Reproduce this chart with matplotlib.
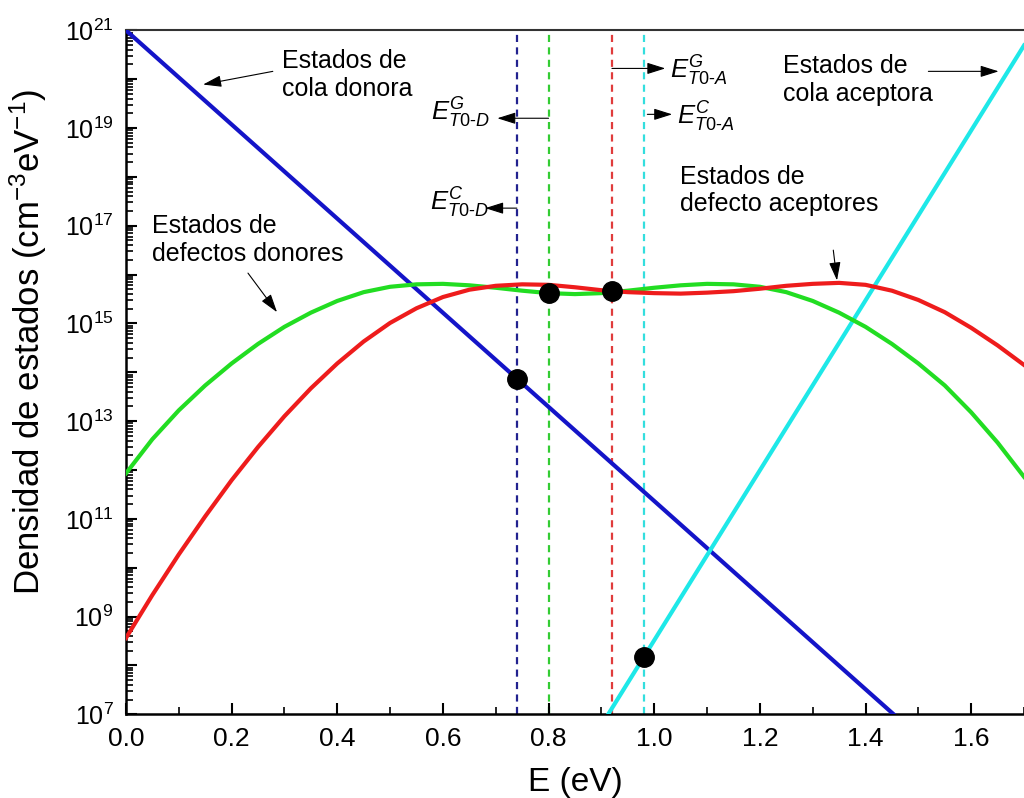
import matplotlib
matplotlib.use("Agg")
import matplotlib.pyplot as plt
from matplotlib.ticker import FixedLocator, FuncFormatter, LogLocator, MultipleLocator
import numpy as np

plt.rcParams['font.family'] = ['Liberation Sans', 'DejaVu Sans']
plt.rcParams['mathtext.fontset'] = 'custom'
plt.rcParams['mathtext.rm'] = 'Liberation Sans'
plt.rcParams['mathtext.it'] = 'Liberation Sans:italic'
plt.rcParams['mathtext.bf'] = 'Liberation Sans:bold'

# energy grid for the defect distributions (eV)
E_def = [0.00, 0.05, 0.10, 0.15, 0.20, 0.25, 0.30, 0.35, 0.40, 0.45,
         0.50, 0.55, 0.60, 0.65, 0.70, 0.75, 0.80, 0.85, 0.90, 0.95,
         1.00, 1.05, 1.10, 1.15, 1.20, 1.25, 1.30, 1.35, 1.40, 1.45,
         1.50, 1.55, 1.60, 1.65, 1.70]

# log10 of density of states (cm^-3 eV^-1)
donor_def_log = [11.93, 12.63, 13.22, 13.73, 14.18, 14.58, 14.93, 15.22, 15.46, 15.64,
                 15.75, 15.80, 15.81, 15.78, 15.73, 15.67, 15.62, 15.60, 15.62, 15.67,
                 15.73, 15.78, 15.81, 15.80, 15.75, 15.64, 15.46, 15.22, 14.93, 14.58,
                 14.18, 13.73, 13.18, 12.56, 11.86]
acc_def_log = [8.56, 9.44, 10.27, 11.05, 11.79, 12.47, 13.10, 13.67, 14.18, 14.63,
               15.01, 15.31, 15.54, 15.69, 15.77, 15.80, 15.79, 15.74, 15.68, 15.64,
               15.62, 15.61, 15.63, 15.66, 15.71, 15.77, 15.81, 15.83, 15.79, 15.67,
               15.48, 15.23, 14.91, 14.55, 14.15]

# exponential band tails (straight lines on the log axis)
E_donor_tail = [0.0, 1.453]
donor_tail_log = [21.0, 7.0]
E_acc_tail = [0.913, 1.70]
acc_tail_log = [7.0, 20.69]

# characteristic energies
E_T0 = [0.74, 0.80, 0.92, 0.98]
E_T0_colors = ['#22228f', '#33cc33', '#e03c3c', '#33dede']
dot_E = [0.74, 0.80, 0.92, 0.98]
dot_log = [13.87, 15.62, 15.66, 8.17]

fig = plt.figure(figsize=(10.24, 7.98), dpi=100)
ax = fig.add_axes([0.123, 0.105, 0.877, 0.857])

for e, c in zip(E_T0, E_T0_colors):
    ax.axvline(e, color=c, lw=1.6, dashes=(3.2, 2.4), zorder=1)

ax.plot(E_donor_tail, 10.0 ** np.array(donor_tail_log), color='#1414c8', lw=3, zorder=3)
ax.plot(E_acc_tail, 10.0 ** np.array(acc_tail_log), color='#1ee8e8', lw=3, zorder=3)
ax.plot(E_def, 10.0 ** np.array(donor_def_log), color='#22dd22', lw=3, zorder=3,
        solid_joinstyle='round')
ax.plot(E_def, 10.0 ** np.array(acc_def_log), color='#ee1c1c', lw=3, zorder=3,
        solid_joinstyle='round')
ax.plot(dot_E, 10.0 ** np.array(dot_log), 'o', color='black', ms=14, zorder=5)

ax.set_yscale('log')
ax.set_xlim(0, 1.7)
ax.set_ylim(1e7, 1e21)

ax.xaxis.set_major_locator(MultipleLocator(0.2))
ax.xaxis.set_minor_locator(MultipleLocator(0.1))
ax.xaxis.set_major_formatter(FuncFormatter(lambda v, p: f'{v:.1f}'))
ax.yaxis.set_major_locator(FixedLocator([10.0 ** k for k in range(7, 22)]))
ax.yaxis.set_minor_locator(LogLocator(base=10, subs=np.arange(2, 10), numticks=30))
ax.yaxis.set_major_formatter(FuncFormatter(
    lambda v, p: r'$10^{%d}$' % round(np.log10(v)) if round(np.log10(v)) % 2 == 1 else ''))
ax.yaxis.set_minor_formatter(FuncFormatter(lambda v, p: ''))

ax.tick_params(which='both', direction='in', top=False, right=False)
ax.tick_params(axis='x', labelsize=19)
ax.tick_params(axis='y', labelsize=18)
ax.tick_params(which='major', length=8, width=1.5, pad=9)
ax.tick_params(which='minor', length=5, width=1.2)
ax.spines['right'].set_visible(False)
ax.spines['top'].set_color('#333333')
ax.spines['top'].set_linewidth(1.5)
for s in ('left', 'bottom'):
    ax.spines[s].set_linewidth(1.8)

ax.set_xlabel('E (eV)', fontsize=24, labelpad=12)
ax.set_ylabel(r'Densidad de estados (cm$^{-3}$eV$^{-1}$)', fontsize=25)
ax.yaxis.set_label_coords(-0.086, 0.545)

arrow = dict(arrowstyle='-|>,head_length=0.7,head_width=0.22', color='black',
             lw=0.8, mutation_scale=16, shrinkA=0, shrinkB=0)

# curve labels
ax.text(0.295, 10 ** 20.08, 'Estados de\ncola donora', fontsize=18, va='center', ha='left')
ax.annotate('', xy=(0.146, 10 ** 19.89), xytext=(0.278, 10 ** 20.16), arrowprops=arrow)

ax.text(0.049, 10 ** 16.70, 'Estados de\ndefectos donores', fontsize=18, va='center', ha='left')
ax.annotate('', xy=(0.286, 10 ** 15.23), xytext=(0.231, 10 ** 16.03), arrowprops=arrow)

ax.text(1.244, 10 ** 19.98, 'Estados de\ncola aceptora', fontsize=18, va='center', ha='left')
ax.annotate('', xy=(1.652, 10 ** 20.16), xytext=(1.519, 10 ** 20.16), arrowprops=arrow)

ax.text(1.049, 10 ** 17.72, 'Estados de\ndefecto aceptores', fontsize=18, va='center', ha='left')
ax.annotate('', xy=(1.346, 10 ** 15.88), xytext=(1.339, 10 ** 16.50), arrowprops=arrow)

# characteristic energy labels
ax.annotate('', xy=(0.703, 10 ** 19.20), xytext=(0.80, 10 ** 19.20), arrowprops=arrow)
ax.text(0.689, 10 ** 19.30, r'$E^{G}_{\mathit{T0}\text{-}D}$', fontsize=18.5, va='center', ha='right')

ax.annotate('', xy=(0.68, 10 ** 17.36), xytext=(0.74, 10 ** 17.36), arrowprops=arrow)
ax.text(0.686, 10 ** 17.46, r'$E^{C}_{\mathit{T0}\text{-}D}$', fontsize=18.5, va='center', ha='right')

ax.annotate('', xy=(1.021, 10 ** 20.22), xytext=(0.92, 10 ** 20.22), arrowprops=arrow)
ax.text(1.030, 10 ** 20.16, r'$E^{G}_{\mathit{T0}\text{-}A}$', fontsize=18.5, va='center', ha='left')

ax.annotate('', xy=(1.034, 10 ** 19.28), xytext=(0.987, 10 ** 19.28), arrowprops=arrow)
ax.text(1.044, 10 ** 19.22, r'$E^{C}_{\mathit{T0}\text{-}A}$', fontsize=18.5, va='center', ha='left')

fig.savefig('out.png', dpi=100)
